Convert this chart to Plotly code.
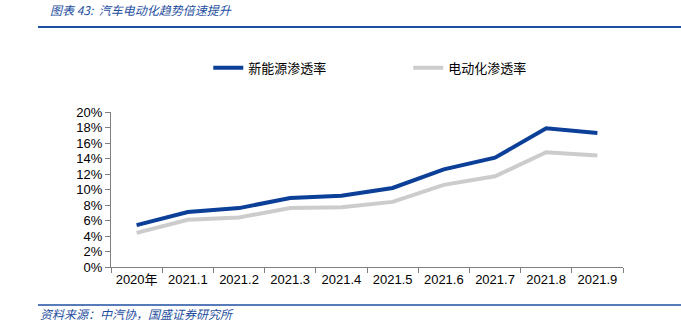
import plotly.graph_objects as go

categories = ["2020年", "2021.1", "2021.2", "2021.3", "2021.4", "2021.5", "2021.6", "2021.7", "2021.8", "2021.9"]
nev_rate = [5.4, 7.1, 7.6, 8.9, 9.2, 10.2, 12.6, 14.1, 17.9, 17.3]
elec_rate = [4.4, 6.1, 6.4, 7.6, 7.7, 8.4, 10.6, 11.7, 14.8, 14.4]
y_ticks = list(range(0, 21, 2))
y_labels = [f"{v}%" for v in y_ticks]

FONT = "Liberation Sans, Noto Sans CJK SC, sans-serif"
BLUE_TXT = "#1F4FA0"

fig = go.Figure()
fig.add_trace(go.Scatter(x=categories, y=nev_rate, mode="lines", name="新能源渗透率",
                         line=dict(color="#0B3F98", width=4)))
fig.add_trace(go.Scatter(x=categories, y=elec_rate, mode="lines", name="电动化渗透率",
                         line=dict(color="#CCCCCC", width=4)))

fig.update_layout(
    width=681, height=331,
    margin=dict(l=111, r=58, t=112, b=64),
    plot_bgcolor="white", paper_bgcolor="white",
    font=dict(family=FONT, size=13, color="#000000"),
    showlegend=True,
    legend=dict(orientation="h", x=0.19, y=1.285, xanchor="left", yanchor="middle",
                entrywidth=155, entrywidthmode="pixels", tracegroupgap=0,
                font=dict(family="Noto Sans CJK SC, sans-serif", size=13, color="#000")),
    xaxis=dict(type="category", showgrid=False, showline=True, linecolor="#808080", linewidth=1,
               ticks="outside", ticklen=5, tickcolor="#808080", tickson="boundaries",
               tickfont=dict(family=FONT, size=13), range=[-0.5, 9.5]),
    yaxis=dict(range=[0, 20], tickvals=y_ticks, ticktext=y_labels, showgrid=False,
               showline=True, linecolor="#808080", linewidth=1, ticks="outside",
               ticklen=5, tickcolor="#808080", tickfont=dict(family=FONT, size=13), zeroline=False),
)

fig.add_annotation(text="图表 43:  汽车电动化趋势倍速提升", xref="paper", yref="paper",
                   x=-0.1426 + 0.02, y=1.66, xanchor="left", yanchor="middle", showarrow=False,
                   font=dict(family="Noto Sans CJK SC, sans-serif", size=12, color=BLUE_TXT,
                             style="italic"))
fig.add_annotation(text="资料来源：中汽协，国盛证券研究所", xref="paper", yref="paper",
                   x=-0.1426, y=-0.30, xanchor="left", yanchor="middle", showarrow=False,
                   font=dict(family="Noto Sans CJK SC, sans-serif", size=12, color=BLUE_TXT,
                             style="italic"))
fig.add_shape(type="line", xref="paper", yref="paper", x0=-0.1426, x1=1.12, y0=1.548, y1=1.548,
              line=dict(color="#1F4FA0", width=2))
fig.add_shape(type="line", xref="paper", yref="paper", x0=-0.1426, x1=1.12, y0=-0.245, y1=-0.245,
              line=dict(color="#1F4FA0", width=1.5))

fig.write_html("out.html")
